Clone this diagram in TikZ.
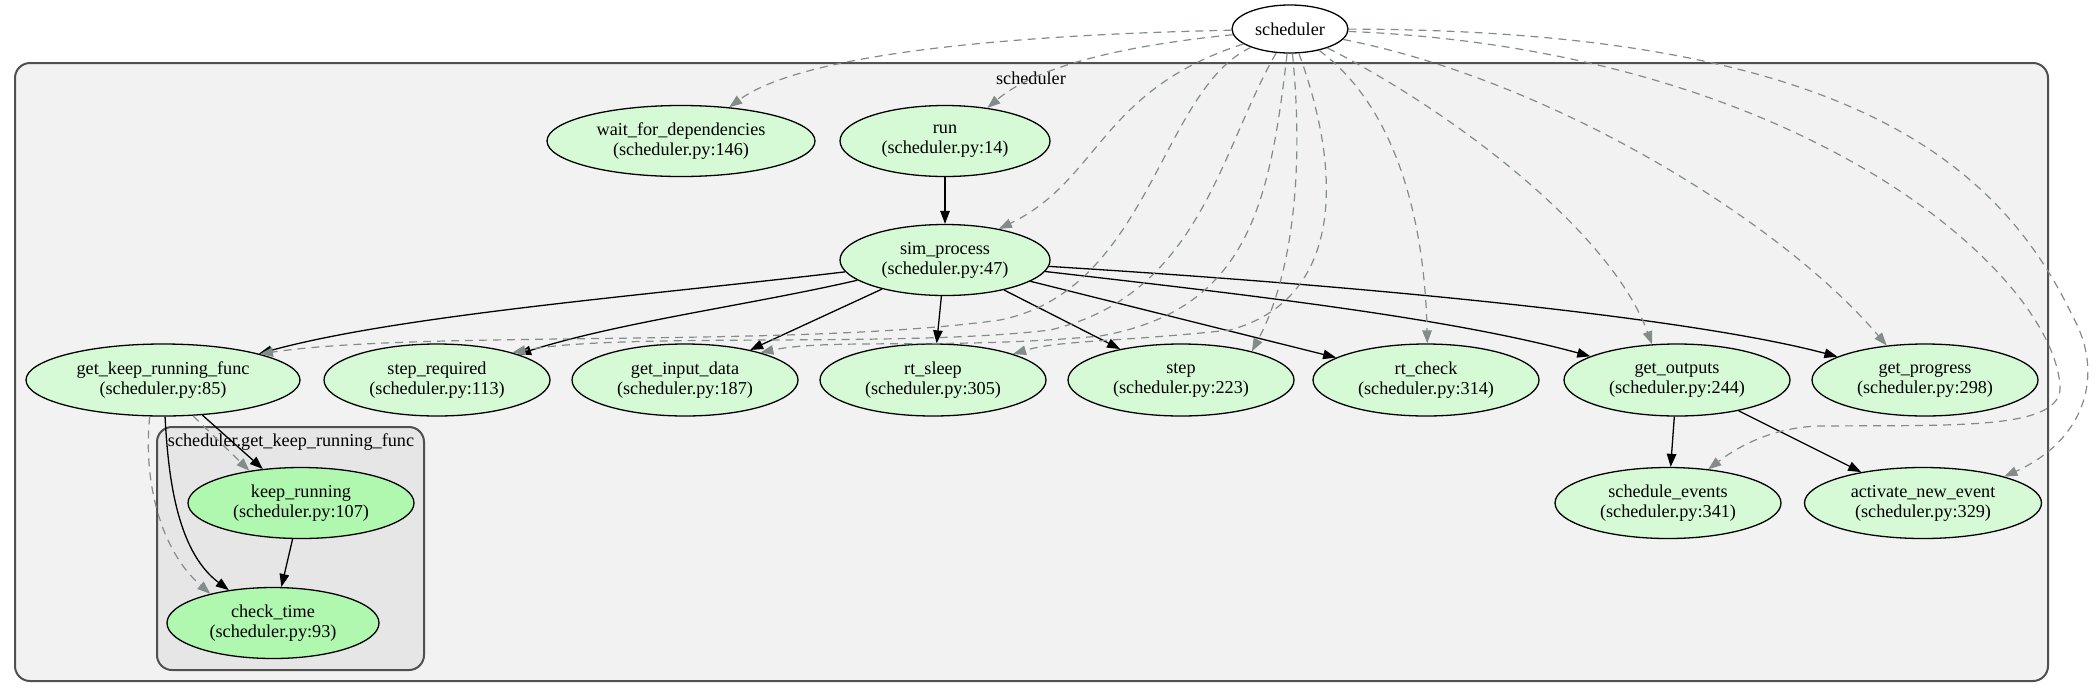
\documentclass[tikz,border=0pt]{standalone}
\usepackage{fontspec}
\setmainfont{Liberation Serif}
\usetikzlibrary{arrows.meta,shapes.geometric}
\definecolor{fnfill}{RGB}{214,250,214}
\definecolor{innerfill}{RGB}{176,247,176}
\definecolor{outerbg}{RGB}{242,242,242}
\definecolor{innerbg}{RGB}{230,230,230}
\definecolor{frame}{RGB}{80,80,80}
\definecolor{usegray}{RGB}{131,139,139}
\begin{document}
\begin{tikzpicture}[x=1pt,y=-1pt]
 \tikzstyle{fn} = [draw, ellipse, line width=1.3pt, fill=fnfill, inner sep=0pt, align=center, minimum width=226pt, minimum height=72pt, font=\fontsize{18.2}{20}\selectfont];
 \tikzstyle{innerfn} = [fn, fill=innerfill];
 \tikzstyle{defs} = [-{Triangle[length=13pt,width=9.5pt]}, line width=1.3pt];
 \tikzstyle{uses} = [defs, color=usegray, line width=1.2pt, dash pattern=on 8pt off 6pt];
 \tikzstyle{cluster} = [draw=frame, line width=2pt, rounded corners=15pt];
 \tikzstyle{clustertitle} = [inner sep=0pt, font=\fontsize{18.2}{20}\selectfont];
\useasboundingbox (0,0) rectangle (2098,697);
\draw [cluster, fill=outerbg] (15,63) rectangle (2048,681);
\draw [cluster, fill=innerbg] (157,427) rectangle (424,670);
\node [clustertitle] (t1) at (1031,78) {scheduler};
\node [clustertitle] (t2) at (291,442) {scheduler.get\_keep\_running\_func};

\node [fn, minimum width=116pt, minimum height=48pt, fill=white] (sched) at (1290,29) {scheduler};
\node [fn, minimum width=268pt, minimum height=71pt] (wait) at (681,141) {wait\_for\_dependencies\\(scheduler.py:146)};
\node [fn, minimum width=210pt, minimum height=71pt] (run) at (945,141) {run\\(scheduler.py:14)};
\node [fn, minimum width=210pt, minimum height=71pt] (sim) at (945,260) {sim\_process\\(scheduler.py:47)};
\node [fn, minimum width=274pt] (gkrf) at (163,380) {get\_keep\_running\_func\\(scheduler.py:85)};
\node [fn] (sreq) at (437,380) {step\_required\\(scheduler.py:113)};
\node [fn] (gid) at (685,380) {get\_input\_data\\(scheduler.py:187)};
\node [fn] (rts) at (933,380) {rt\_sleep\\(scheduler.py:305)};
\node [fn] (stp) at (1181,380) {step\\(scheduler.py:223)};
\node [fn] (rtc) at (1426,380) {rt\_check\\(scheduler.py:314)};
\node [fn] (gout) at (1677,380) {get\_outputs\\(scheduler.py:244)};
\node [fn] (gprog) at (1925,380) {get\_progress\\(scheduler.py:298)};
\node [fn, minimum height=71pt] (sev) at (1668,503) {schedule\_events\\(scheduler.py:341)};
\node [fn, minimum width=237pt, minimum height=71pt] (ane) at (1923,503) {activate\_new\_event\\(scheduler.py:329)};
\node [innerfn, minimum height=71pt] (krun) at (301,503) {keep\_running\\(scheduler.py:107)};
\node [innerfn, minimum width=212pt, minimum height=71pt] (ctime) at (273,623) {check\_time\\(scheduler.py:93)};

\draw [defs] (run) -- (sim);
\draw [defs] (sim) .. controls (650,295) and (400,315) .. (gkrf);
\draw [defs] (sim) .. controls (750,305) and (620,322) .. (sreq);
\draw [defs] (sim) -- (gid);
\draw [defs] (sim) -- (rts);
\draw [defs] (sim) -- (stp);
\draw [defs] (sim) -- (rtc);
\draw [defs] (sim) .. controls (1250,295) and (1450,318) .. (gout);
\draw [defs] (sim) .. controls (1400,288) and (1700,320) .. (gprog);
\draw [defs] (gout) -- (sev);
\draw [defs] (gout) -- (ane);
\draw [defs] (gkrf) -- (krun);
\draw [defs] (gkrf) .. controls (168,470) and (175,550) .. (ctime);
\draw [defs] (krun) -- (ctime);

\draw [uses] (sched) .. controls (1000,35) and (800,55) .. (wait.35);
\draw [uses] (sched) .. controls (1100,48) and (1030,72) .. (run.38);
\draw [uses] (sched) .. controls (1100,90) and (1100,180) .. (sim.30);
\draw [uses] (sched) .. controls (1160,90) and (1150,290) .. (1000,320) .. controls (800,348) and (420,330) .. (gkrf.15);
\draw [uses] (sched) .. controls (1220,150) and (1200,295) .. (1050,330) .. controls (900,348) and (620,332) .. (sreq.20);
\draw [uses] (sched) .. controls (1270,200) and (1250,310) .. (1100,336) .. controls (950,350) and (830,338) .. (gid.20);
\draw [uses] (sched) .. controls (1345,180) and (1340,300) .. (1230,330) .. controls (1120,342) and (1060,340) .. (rts.18);
\draw [uses] (sched) .. controls (1305,180) and (1290,280) .. (stp.22);
\draw [uses] (sched) .. controls (1400,110) and (1425,230) .. (rtc.88);
\draw [uses] (sched) .. controls (1450,110) and (1610,230) .. (gout.125);
\draw [uses] (sched) .. controls (1550,80) and (1780,220) .. (gprog.138);
\draw [uses] (sched) .. controls (1800,50) and (2050,270) .. (2060,385) .. controls (2064,430) and (1960,425) .. (1820,426) .. controls (1775,427) and (1740,445) .. (sev.40);
\draw [uses] (sched) .. controls (1850,30) and (2000,165) .. (2073,317) .. controls (2105,375) and (2085,440) .. (ane.18);
\draw [uses] (gkrf.310) -- (krun.148);
\draw [uses] (gkrf.250) .. controls (143,480) and (160,550) .. (ctime.155);
\end{tikzpicture}
\end{document}
